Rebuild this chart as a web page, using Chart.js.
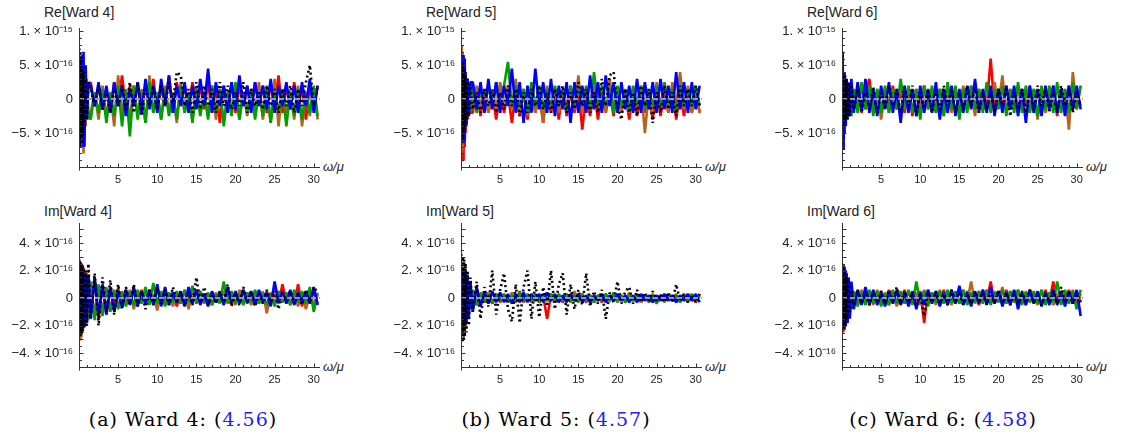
<!DOCTYPE html>
<html><head><meta charset="utf-8">
<script src="https://cdn.jsdelivr.net/npm/chart.js@4.4.1/dist/chart.umd.min.js"></script>
<style>
body{margin:0;background:#fff;width:1126px;height:434px;overflow:hidden;position:relative;font-family:"Liberation Sans",Arial,sans-serif;}
canvas{position:absolute;}
.t{position:absolute;font-size:14px;color:#222;line-height:16px;white-space:nowrap}
.w{position:absolute;font-size:13px;font-style:italic;color:#222;line-height:16px;white-space:nowrap}
.cap{position:absolute;width:300px;text-align:center;font-family:"DejaVu Serif","Liberation Serif",serif;font-size:19px;letter-spacing:1px;line-height:22px;color:#000;white-space:nowrap}
.cap span{color:#2020ff}
</style></head><body>
<div class="t" style="left:44px;top:4px">Re[Ward 4]</div>
<div class="t" style="left:426px;top:4px">Re[Ward 5]</div>
<div class="t" style="left:807px;top:4px">Re[Ward 6]</div>
<div class="t" style="left:44px;top:203px">Im[Ward 4]</div>
<div class="t" style="left:426px;top:203px">Im[Ward 5]</div>
<div class="t" style="left:807px;top:203px">Im[Ward 6]</div>
<div class="w" style="left:323px;top:159px">ω/μ</div>
<div class="w" style="left:705px;top:159px">ω/μ</div>
<div class="w" style="left:1086px;top:159px">ω/μ</div>
<div class="w" style="left:323px;top:359px">ω/μ</div>
<div class="w" style="left:705px;top:359px">ω/μ</div>
<div class="w" style="left:1086px;top:359px">ω/μ</div>
<div class="cap" style="left:33px;top:408px">(a) Ward 4: (<span>4.56</span>)</div>
<div class="cap" style="left:406px;top:408px">(b) Ward 5: (<span>4.57</span>)</div>
<div class="cap" style="left:793px;top:408px">(c) Ward 6: (<span>4.58</span>)</div>
<script>
// frequencies omega/mu
const nearX = [0.03,0.09,0.15,0.21,0.27,0.33,0.4,0.48,0.58,0.7,0.85,1.0,1.2];
const mainX = [1.5,2,2.5,3,3.5,4,4.5,5,5.5,6,6.5,7,7.5,8,8.5,9,9.5,10,10.5,11,11.5,12,12.5,13,13.5,14,14.5,15,15.5,16,16.5,17,17.5,18,18.5,19,19.5,20,20.5,21,21.5,22,22.5,23,23.5,24,24.5,25,25.5,26,26.5,27,27.5,28,28.5,29,29.5,30,30.5];
const xTickValues = [5,10,15,20,25,30];
const reTickValues = [-5,0,5,10];
const reTickLabels = ['−5. × 10⁻¹⁶','0','5. × 10⁻¹⁶','1. × 10⁻¹⁵'];
const imTickValues = [-4,-2,0,2,4];
const imTickLabels = ['−4. × 10⁻¹⁶','−2. × 10⁻¹⁶','0','2. × 10⁻¹⁶','4. × 10⁻¹⁶'];

// values in units of 1e-16
// Re[Ward 4]
const reW4_black = [7.5,-7,6.8,-7,6,-6.5,5,-5.5,4,-4,3,-3,2.5, 1.5,-1,2,-1.5,1,-2,1.5,-1,2,-1.5,2.5,-2,2.5,-2.5,1.5,-1,2,-1.5,2,-1,2.5,-0.5,4,3.5,-1,1.5,-2,2.5,-1.5,2,-1,1.5,-2,2.5,-1,2,-1.5,1,-1,2.5,-2,1.5,-1,1,-1.5,2,-1,1.5,-2,1.5,-1,2,-2,1.5,-1,2.5,5,-1,2];
const reW4_blue = [3,-2,4,-3,5,-5,6.5,-7,7,-7,5,-3,2.5, 2,-1,2.5,-1.5,2,-2,2.5,-1,2,-2.5,1.5,-1,2.5,-2,3,-1.5,2,-2,3,-1,3.5,-2,2,-1,2.5,-2,2,-1.5,3,-1,4.5,-2,2.5,-1,2,-2,2.5,-1.5,3.5,-1,2,-2,2.5,-1,2,-1.5,3,-2,2,-1,2.5,-1.5,2,-2,2.5,-1,3,-2,2];
const reW4_green = [-2,2,-3,2.5,-3,3,-2.5,2,-2,2,-2.5,2,-2, -3,1,-2,1.5,-3.5,1,-2.5,2,-4,1.5,-5.5,2,-3,1,-3.5,2.5,-2,1,-3,1.5,-2.5,1,-3,2,-2,1,-3.5,1.5,-2.5,1,-3,2,-2,1.5,-4,1,-2.5,2.5,-3,1,-2,1.5,-3,1,-2.5,2,-3.5,1,-2,1.5,-4,1,-2.5,1.5,-3,1,-2,2,-2.5];
const reW4_orange = [-3,3,-4,4,-5,5,-6,6,-8,5,-4,3,-3, -2,1,-3,2,-2.5,1,-4,3.5,-2,1,-3,2,-2.5,1.5,-3.5,3.5,-2,1,-3,2,-2,1,-3.5,2.5,-2,1,-3,1.5,-2,1,-2.5,2,-3,1.5,-3.5,1,-2,2,-3,1,-2.5,1.5,-2,2.5,-3,1,-3.5,3,-4,1.5,-2,1,-3,2,-4,1,-2.5,1.5,-3];
const reW4_red = [2,-2,3,-3,3,-3,3,-3,2.5,-2.5,2,-2,2, 2.5,-1,2,-1.5,1,-2,2.5,-1,3.5,-1.5,2,-1,2.5,-2,2,-1,3,-1.5,2,-1,3.5,-2,2.5,-1,2,-1.5,2.5,-1,2,-1.5,2.5,-2,2,-3.5,2,-1,2.5,-2,2,-1,2,-1.5,2.5,-1,2,-2,2.5,-1,3.5,-2,2,-1.5,2.5,-1,2,-3,2,-1,2];
// Im[Ward 4]
const imW4_black = [2.8,-2.8,2.7,-2.8,2.6,-2.6,2.4,-2.4,2.2,-2.2,2,-2,2.5, -1.5,1.8,-2,1.5,-1,1.3,-1.2,1,-0.8,0.8,-0.5,1,-0.6,0.5,-0.8,0.6,-0.5,0.8,-0.4,0.6,-0.5,0.8,-0.3,0.5,-0.6,0.4,-0.5,1.5,-0.3,0.8,-0.5,0.3,-0.4,0.5,-0.3,1,-0.6,0.4,-0.5,0.8,-0.3,0.5,-0.6,0.3,-0.4,0.6,-0.3,0.5,-0.8,0.4,-0.3,0.5,-0.4,0.3,-0.5,0.6,-0.3,0.8,0.4];
const imW4_blue = [2.5,-2.5,2.5,-2.6,2.4,-2.5,2.3,-2.2,2,-2,1.8,-1.8,1.7, -1.5,1.5,-1.3,1,-1.2,0.8,-1,0.5,-0.7,0.6,-0.5,0.8,-0.6,0.5,-0.4,0.6,-0.5,1,-0.6,0.8,-0.5,0.4,-0.3,0.5,-0.6,0.8,-0.4,0.6,-0.5,0.3,-0.6,0.5,-0.3,0.4,-0.5,0.8,-0.3,0.5,-0.4,0.6,-0.3,0.5,-0.5,0.6,-0.3,0.4,-0.6,1.2,-0.3,0.5,-0.4,0.6,-0.5,0.4,-0.3,0.5,-0.4,0.8,-0.5];
const imW4_green = [-2,2,-2,2,-2,2,-2,2,-1.8,1.8,-1.6,1.6,-1.5, 1.2,-1.6,1,-1.3,0.8,-1,0.6,-0.8,0.5,-0.6,0.4,-0.5,0.6,-0.4,0.8,-0.5,1.1,-0.4,0.5,-0.6,0.4,-0.3,0.5,-0.4,0.6,-0.3,0.9,-0.4,0.5,-0.3,0.4,-0.5,0.3,-0.4,1.2,-0.3,0.5,-0.4,0.3,-0.5,0.4,-0.3,0.6,-0.4,0.3,-0.5,0.4,-0.6,0.5,-0.3,0.4,-0.5,0.6,-0.3,0.5,-0.4,0.8,-1,0.3];
const imW4_orange = [-3,2.5,-3,2.6,-2.8,2.4,-2.5,2.2,-2.2,2,-2,1.8,-1.6, 1,-1.3,0.8,-1,0.6,-0.8,0.5,-0.7,0.4,-0.5,0.6,-0.8,0.4,-0.3,0.5,-0.4,0.3,-0.9,0.5,-0.3,0.4,-0.6,0.3,-0.4,0.6,-0.8,0.4,-0.3,0.5,-0.4,0.3,-0.5,0.4,-0.3,0.5,-0.4,0.3,-0.5,0.6,-0.3,0.4,-0.5,0.3,-0.4,0.5,-1.1,0.3,-0.4,0.5,-0.3,0.4,-0.5,0.3,-0.6,0.4,-0.8,0.3,-0.5,0.4];
const imW4_red = [2.7,-2.5,2.6,-2.4,2.5,-2.3,2.4,-2.2,2.2,-2,2,-1.8,1.7, -1.2,1.4,-1.6,1,-1.2,0.8,-0.6,0.7,-0.5,0.6,-0.4,0.5,-0.3,0.6,-0.5,0.4,-0.3,0.8,-0.4,0.5,-0.3,0.4,-0.6,0.3,-0.4,0.5,-0.3,0.6,-0.4,0.3,-0.5,0.4,-0.3,0.5,-0.4,0.3,-0.5,0.4,-0.3,0.6,-0.4,0.3,-0.5,0.4,-0.3,0.5,-0.4,0.3,-0.4,1,-0.3,0.5,-0.4,1,-0.6,0.4,-0.3,0.5,-0.4];
// Re[Ward 5]
const reW5_black = [6,-6,5.5,-6,5,-5,4.5,-4.5,3.5,-3.5,3,-2.5,2, -1.5,1,-2,1.5,-1,1.5,-2,1,-1.5,2,-1,1.5,-2.5,1,-2,1.5,-1,2,-1.5,1,-2,1.5,-1,2,-2,1,-1.5,2.5,-1,1.5,-2,1,-2,3,-1,3.5,4,-1,-3,1.5,-2,1,-2.5,2,-1,1.5,-3.5,1,-2,2,-1.5,1,-2.5,2,-1,1.5,-1,2,-1];
const reW5_blue = [4,-4,5,-5,6.5,-6.5,6,-6,4,-4,3,-2.5,2.5, 2.5,-1.5,2.5,-2,3,-1.5,2.5,-2,2,-1,4.5,-2,2.5,-3.5,2,-2,4.5,-1.5,2.5,-2,3,-2.5,2,-1.5,2.5,-3.5,2.5,-2,2,-2,3.5,-1.5,2.5,-2,3.5,-1,2.5,-2,2.5,-1.5,2,-2,3,-2,2.5,-1.5,2.5,-2,3,-1.5,2,-2,4,-1.5,2.5,-2,2.5,-1.5,2];
const reW5_green = [-3,3,-3,3.5,-3,3,-2.5,2.5,-2,2,-2,2,-2, 2.5,-2,1.5,-1.5,2,-1,2.5,-1.5,2,5.5,-1,2,-1,1.5,-2,2.5,-1,2,-1.5,1.5,-1,2,-1,1.5,-2,2,-1,1.5,-1,2,-1.5,4,-1,2,-1,1.5,-2,2,-1,1.5,-1.5,2,-1,2,-1.5,1.5,-1,2,-1.5,2.5,-1,1.5,-2,2,-1,1.5,-1,2,-1];
const reW5_orange = [8,-8,7,-7.5,6,-6,5,-5,3.5,-3,3,-2.5,2, -1.5,2,-1,1.5,-2,1,-1.5,2.5,-1,2,-1.5,3,-2,1,-2.5,1.5,-2,1,-3.5,2,-1.5,1,-2,1.5,-1,2,-1.5,3.5,-2,1.5,-1,2,-1.5,1,-2,3,-1,1.5,-2,1,-2,1.5,-1,2,-5,1,-2,2.5,-1,1.5,-2,2.5,-1,4,-1.5,2,-2,1,-2];
const reW5_red = [-4,4,-6,5,-9,6,-7,5,-5,3,-3,2,-2, -2,1,-2.5,1.5,-2,1,-3,1.5,-2,1,-3.5,1,-2.5,1.5,-3,1,-2,1,-3.5,1.5,-2,1,-3,1.5,-2.5,1,-2,1.5,-4.5,1,-2.5,1.5,-3,1,-2,1,-2.5,1.5,-2,1,-3,1,-2.5,1.5,-2,1,-3,1.5,-2.5,1,-2,1.5,-3,1,-2.5,1,-2,1.5,-2];
// Im[Ward 5]
const imW5_black = [3.2,-3.2,3,-3.2,3,-3,2.8,-2.8,2.5,-2.5,2,-2,1.5, -1,1.2,-1.5,0.8,-0.6,2,-1.2,0.6,1.8,-0.8,-1.7,1,-1.8,0.8,2,-1.5,1.2,-1.4,0.8,-0.6,2,-0.8,1,1.8,-1.2,1,-0.8,0.6,-0.5,1.8,-0.6,0.5,-0.4,0.6,-1.5,0.4,-0.3,1.2,-0.4,0.5,0.8,-0.4,0.6,-0.3,0.4,-0.3,0.5,-0.2,0.3,-0.3,0.4,-0.3,1,-0.2,0.3,-0.3,0.2,-0.3,0.3];
const imW5_blue = [2.2,-2.2,2.2,-2.3,2.2,-2.2,2.1,-2,2,-1.8,1.7,-1.5,1.2, -1,0.8,-0.6,0.5,-0.4,0.5,-0.3,0.4,-0.3,0.3,-0.4,0.3,-0.3,0.4,-0.3,0.3,-0.2,0.3,-0.3,0.4,-0.2,0.3,-0.3,0.2,-0.3,0.3,-0.2,0.3,-0.3,0.2,-0.3,0.2,-0.2,0.3,-0.3,0.2,-0.2,0.3,-0.2,0.2,-0.3,0.2,-0.3,0.3,-0.2,0.2,-0.3,0.2,-0.2,0.3,-0.2,0.2,-0.3,0.2,-0.2,0.3,-0.2,0.3,-0.3];
const imW5_green = [-1.8,1.8,-1.8,1.8,-1.7,1.7,-1.6,1.6,-1.5,1.5,-1.2,1,-0.8, 0.6,-0.5,0.4,-0.3,0.3,-0.4,0.3,-0.2,0.3,-0.3,0.2,-0.3,0.4,-0.2,0.3,-0.2,0.3,-0.3,0.2,-0.2,0.3,-0.2,0.3,-0.2,0.3,-0.3,0.2,-0.3,0.3,-0.2,0.2,-0.3,0.2,-0.2,0.3,-0.2,0.4,-0.2,0.2,-0.3,0.2,-0.2,0.3,-0.2,0.2,-0.3,0.2,-0.4,0.2,-0.2,0.3,-0.2,0.2,-0.3,0.2,-0.2,0.3,-0.2,0.2];
const imW5_orange = [-2,2,-2,2,-2,2,-1.8,1.8,-1.6,1.5,-1.3,1,-0.8, 0.5,-0.4,0.3,-0.3,0.4,-0.3,0.3,-0.2,0.3,-0.3,0.4,-0.2,0.3,-0.3,0.2,-0.3,0.3,-0.2,0.3,-0.2,0.3,-0.3,0.2,-0.2,0.3,-0.2,0.5,-0.2,0.3,-0.2,0.2,-0.3,0.2,-0.2,0.3,-0.2,0.2,-0.3,0.2,-0.2,0.4,-0.2,0.2,-0.3,0.2,-0.2,0.3,-0.2,0.2,-0.3,0.2,-0.2,0.3,-0.2,0.2,-0.3,0.2,-0.2,0.3];
const imW5_red = [-2.5,2,-2.5,2,-2.2,1.8,-2,1.8,-2,1.5,-1.5,1,-0.8, 0.4,-0.5,0.3,-0.3,0.2,-0.4,0.3,-0.3,0.2,-0.3,0.2,-0.3,0.5,-0.3,0.2,-0.3,0.2,-0.3,0.2,-1.5,0.2,-0.3,0.2,-0.3,0.2,-0.2,0.3,-0.2,0.2,-0.3,0.2,-0.2,0.2,-0.3,0.2,-0.2,0.3,-0.2,0.2,-0.3,0.2,-0.2,0.2,-0.3,0.2,-0.2,0.2,-0.3,0.2,-0.2,0.3,-0.2,0.2,-0.2,0.3,-0.2,0.2,-0.3,0.2];
// Re[Ward 6]
const reW6_black = [4,-4,3.5,-4,3,-3.5,3.5,-3,3,-3,2.5,-2.5,2.2, -1.5,1.5,-2,1,-1.5,1.8,-2,1,-1.5,2,-1,1.5,-2,1.8,-1,2,-2.5,1,-1.5,1.5,-2,1,-1.5,2,-1,1.5,-2,1,-1.5,2,-1,1.5,-2,1,-1.5,1,-2,1.5,-1,1.8,-2.5,1,-1.5,1.5,-2,1,-1.5,2,-1,1.5,-2,1,-2,2,-1,1.5,-2,1,-1];
const reW6_blue = [7,6,-3,-7.5,4,-5,3,-4,3,-3,2.5,-2.5,3, -2,2.5,-1.5,3,-2,1.5,-2.5,2,-1.5,2.5,-2,1.5,-3.5,2,-2,1.5,-2.5,2,-2,1.5,-2,2.5,-3,1.5,-2,2,-2.5,1.5,-2,2,-1.5,3,-2,1.5,-2,2,-2.5,1.5,-2,2,-1.5,2,-2.5,1.5,-3.5,2,-2,1.5,-2.5,2,-1.5,2,-2,1.5,-2.5,2,-1.5,2,-1.5];
const reW6_green = [-3,3,-3,3,-2.5,2.5,-2.5,2.5,-2,2,-2,2,-2.5, 1.5,-2,2.5,-1.5,2,-2.5,1.5,-2,2,-2,1.5,-1.5,3,-1.5,2,-2,1.5,-3,2,-1.5,2,-2,1.5,-2.5,2.5,-1.5,2,-3,1.5,-2,2,-1.5,1.5,-2,2.5,-2,1.5,-1.5,2,-2.5,1.5,-2,2.5,-2,2,-2,1.5,-2.5,2,-1.5,2,-2,2.5,-2,1.5,-2,2.5,-1.5,2];
const reW6_orange = [-2.5,2.5,-2.5,2,-2.5,2,-2,2,-2,1.5,-2,1.5,-2, 1.5,-1,2,-1.5,1,-2,1.5,-3,1,-2,1.5,-1,2,-1.5,1,-2,1.5,-1,2,-1.5,1,-2,1.5,-2.5,1,-2,1.5,-1,2,-1.5,1,-2.5,1.5,-1,2,-1.5,2.5,-1,3.5,-2,1.5,-1,2,-1.5,1,-2,1.5,-3,1.5,-2,1,-1.5,2,-1,1.5,-4.5,4,-1.5,2];
const reW6_red = [2,-2,2.5,-2,2.5,-2,2,-2,2,-2,2,-1.5,2, -1,1.5,-2,1,3,-1.5,1,-2,1.5,-1,2,-1.5,1,-2,1.5,-2.5,1,-1.5,2,-1,1.5,-2,1.5,-1,2,-1.5,1,-2,1.5,-1,2,-1.5,1,-1.5,-1,6,-1.5,1.5,-1,2,-1.5,1,-2,1.5,-1,2,-1.5,1,-2,1.5,-1,2,-2.5,1.5,-1,2,-1.5,1,-1];
// Im[Ward 6]
const imW6_black = [2.2,-2.2,2.2,-2.2,2,-2,1.8,-1.8,1.5,-1.5,1.2,-1,0.8, -0.5,0.6,-0.4,0.3,-0.5,0.4,-0.3,0.5,-0.4,0.6,-0.3,0.8,-0.4,0.5,-0.3,0.4,-0.6,0.3,-1.3,0.4,-0.3,0.5,-0.4,0.3,-0.5,0.6,-0.3,0.4,-0.5,0.3,-0.4,0.5,-0.3,0.4,-0.5,0.3,-0.4,0.6,-0.3,0.4,-0.5,0.3,-0.4,0.5,-0.3,0.6,-0.4,0.3,-0.5,0.4,-0.3,0.5,-0.4,0.8,-0.3,0.5,-0.4,0.3,-0.3];
const imW6_blue = [2.3,-2.3,2.3,-2.2,2.2,-2.2,2,-2,1.8,-1.8,1.5,-1.5,1.2, -0.8,0.6,-0.5,0.8,-0.4,0.6,-0.5,0.4,-0.6,0.5,-0.4,0.6,-0.5,0.4,-0.6,0.5,-0.8,0.4,-0.5,0.6,-0.4,0.5,-0.6,0.4,-0.5,0.6,-0.4,0.9,-0.5,0.4,-0.6,0.5,-0.4,0.6,-0.5,0.8,-0.4,0.5,-0.6,0.4,-0.5,0.6,-0.8,0.4,-0.5,0.6,-0.4,0.5,-0.6,0.4,-0.5,0.6,-0.5,0.4,-0.6,0.5,-0.4,0.6,-1.3];
const imW6_green = [-2,2,-2,2,-1.8,1.8,-1.6,1.6,-1.5,1.4,-1.2,1,-0.8, 0.5,-0.6,0.4,-0.5,0.6,-0.4,0.5,-0.6,0.4,-0.5,0.6,-0.4,0.5,-0.4,0.6,-0.5,1.2,-0.4,0.5,-0.6,0.4,-0.3,0.5,-0.4,0.6,-0.3,0.5,-0.4,0.6,-0.5,0.4,-0.3,0.5,-0.4,0.6,-0.5,0.4,-0.3,0.6,-0.4,0.5,-0.3,0.6,-0.5,0.4,-0.3,0.5,-0.4,0.6,-0.5,0.4,-0.3,1.2,-0.5,0.6,-0.4,0.5,-0.8,0.6];
const imW6_orange = [-2,2,-2,1.8,-1.8,1.8,-1.6,1.5,-1.4,1.3,-1.2,1,-0.8, 0.5,-0.4,0.6,-0.3,0.4,-0.5,0.6,-0.4,0.3,-0.5,0.4,-0.6,0.3,-0.4,0.5,-0.3,0.4,-0.5,0.6,-0.3,0.4,-0.5,0.6,-0.3,0.4,-0.5,0.3,-0.4,0.6,-0.3,1.2,-0.4,0.5,-0.3,0.6,-0.4,0.5,-0.3,0.8,-0.4,0.5,-0.3,0.6,-0.4,0.5,-0.3,0.4,-0.5,0.6,-0.3,0.4,-0.5,0.3,-0.4,0.5,-0.3,0.6,-0.4,0.3];
const imW6_red = [2.5,-2.5,2.4,-2.4,2.3,-2.3,2,-2,1.8,-1.8,1.5,-1.2,1, -0.6,0.5,-0.4,0.6,-0.5,0.4,-0.3,0.5,-0.4,0.6,-0.3,0.5,-0.4,0.6,-0.5,0.4,-0.3,0.5,-1.8,0.6,-0.3,0.4,-0.5,0.6,-0.4,0.5,-0.3,0.6,-0.4,0.5,-0.3,0.4,-0.5,0.6,-0.3,1.2,-0.4,0.5,-0.3,0.6,-0.4,0.5,-0.3,0.4,-0.5,0.6,-0.3,0.4,-0.5,0.6,-0.3,1.2,-0.4,0.5,-0.3,0.6,-0.4,0.5,-0.3];

const omega = nearX.concat(mainX);
const COLORS = {black:'#000000', blue:'#0000ff', green:'#00a000', orange:'#b5651d', red:'#ff0000'};
const ORDER = ['black','blue','green','orange','red'];

Chart.defaults.font.family = '"Liberation Sans", Arial, sans-serif';

const axesPlugin = {
  id:'mmaAxes',
  afterDatasetsDraw(chart){
    const {ctx, chartArea:a, scales:{x, y}} = chart;
    const p = chart.options.plugins.mmaAxes;
    ctx.save();
    const y0 = Math.round(y.getPixelForValue(0));
    ctx.strokeStyle = 'rgba(160,160,160,0.95)';
    ctx.lineWidth = 2;
    ctx.setLineDash([5,3]);
    ctx.beginPath(); ctx.moveTo(a.left, y0); ctx.lineTo(a.right, y0); ctx.stroke();
    ctx.setLineDash([]);
    ctx.strokeStyle = '#333';
    ctx.lineWidth = 1;
    ctx.beginPath();
    const L = Math.round(a.left) + 0.5, B = Math.round(a.bottom) + 0.5;
    ctx.moveTo(L, a.top); ctx.lineTo(L, B + 3);
    ctx.moveTo(L, B); ctx.lineTo(a.right, B);
    for (let v = 1; v <= 30; v++) {
      const px = Math.round(x.getPixelForValue(v)) + 0.5;
      const len = v % 5 === 0 ? 4 : 2.5;
      ctx.moveTo(px, B); ctx.lineTo(px, B - len);
    }
    for (let v = p.yMin; v <= p.yMax + 1e-9; v += p.minor) {
      const py = Math.round(y.getPixelForValue(v)) + 0.5;
      const major = Math.abs(v / p.major - Math.round(v / p.major)) < 1e-6;
      ctx.moveTo(L, py); ctx.lineTo(L + (major ? 4 : 2.5), py);
    }
    ctx.stroke();
    ctx.restore();
  }
};

function makeChart(p){
  const c = document.createElement('canvas');
  c.width = 370; c.height = p.h;
  c.style.left = p.left + 'px'; c.style.top = p.top + 'px';
  document.body.appendChild(c);
  const datasets = ORDER.map(k => ({
    label: k,
    data: omega.map((x, i) => ({x: x, y: p.data[k][i]})).filter(d => d.y !== undefined),
    borderColor: COLORS[k],
    borderWidth: 2.6,
    borderDash: k === 'black' ? [2, 3] : [],
    borderJoinStyle: 'bevel',
    tension: 0,
    pointRadius: 0,
    fill: false
  }));
  new Chart(c, {
    type: 'line',
    data: {datasets},
    options: {
      responsive: false, animation: false, devicePixelRatio: 1,
      layout: {padding: {left: 0, right: 50, top: 28, bottom: 0}},
      plugins: {legend: {display: false}, tooltip: {enabled: false},
        mmaAxes: {yMin: p.yMin, yMax: p.yMax, minor: p.minor, major: p.major}},
      scales: {
        x: {type: 'linear', min: 0, max: 30.8,
          grid: {display: false, drawTicks: false}, border: {display: false},
          afterBuildTicks: s => { s.ticks = xTickValues.map(v => ({value: v})); },
          ticks: {font: {size: 11}, color: '#222', padding: 6, maxRotation: 0, autoSkip: false},
          afterFit: s => { s.height = 28; }},
        y: {type: 'linear', min: p.yMin, max: p.yMax,
          grid: {display: false, drawTicks: false}, border: {display: false},
          afterBuildTicks: s => { s.ticks = p.tickVals.map(v => ({value: v})); },
          ticks: {font: {size: 13}, color: '#222', padding: 6, autoSkip: false,
            callback: (v) => { const i = p.tickVals.indexOf(v); return i >= 0 ? p.tickLabels[i] : ''; }},
          afterFit: s => { s.width = 79; }}
      }
    },
    plugins: [axesPlugin]
  });
}

const lefts = [0, 382, 763];
const reData = [
  {black: reW4_black, blue: reW4_blue, green: reW4_green, orange: reW4_orange, red: reW4_red},
  {black: reW5_black, blue: reW5_blue, green: reW5_green, orange: reW5_orange, red: reW5_red},
  {black: reW6_black, blue: reW6_blue, green: reW6_green, orange: reW6_orange, red: reW6_red}
];
const imData = [
  {black: imW4_black, blue: imW4_blue, green: imW4_green, orange: imW4_orange, red: imW4_red},
  {black: imW5_black, blue: imW5_blue, green: imW5_green, orange: imW5_orange, red: imW5_red},
  {black: imW6_black, blue: imW6_blue, green: imW6_green, orange: imW6_orange, red: imW6_red}
];
for (let j = 0; j < 3; j++) {
  makeChart({left: lefts[j], top: 0, h: 195, yMin: -10, yMax: 10.5, minor: 1, major: 5,
    tickVals: reTickValues, tickLabels: reTickLabels, data: reData[j]});
  makeChart({left: lefts[j], top: 195, h: 200, yMin: -5, yMax: 5.45, minor: 0.5, major: 1,
    tickVals: imTickValues, tickLabels: imTickLabels, data: imData[j]});
}
</script>
</body></html>
